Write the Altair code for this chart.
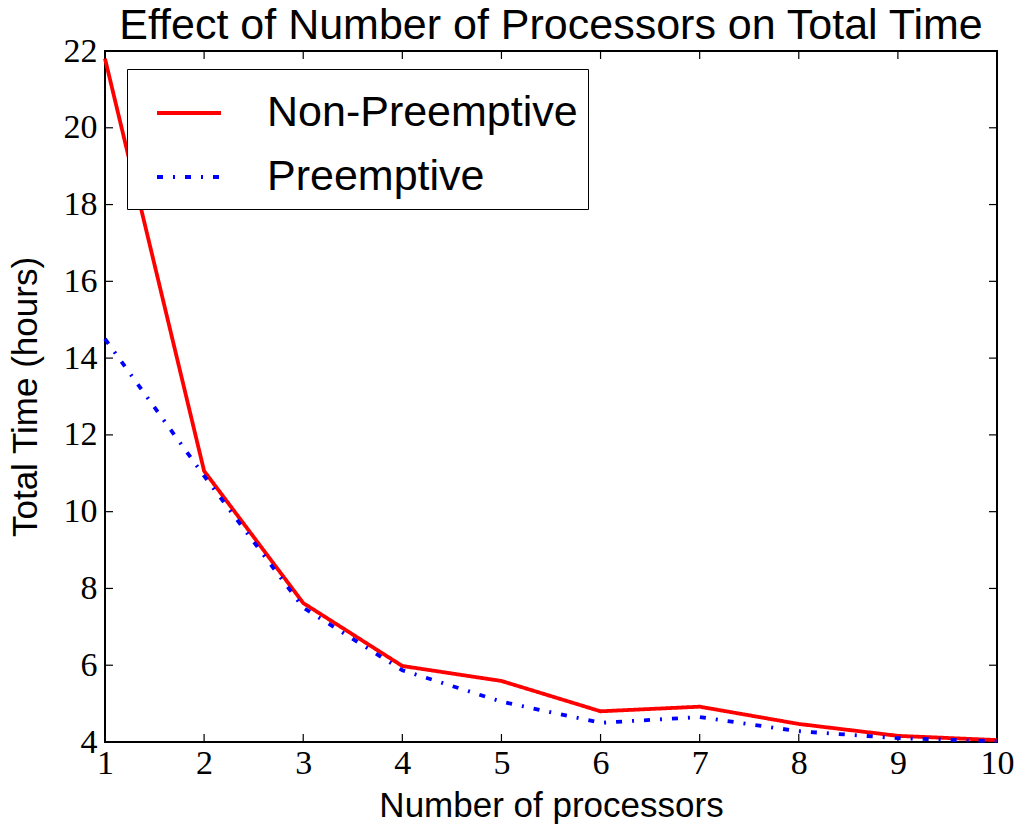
import altair as alt
import pandas as pd

# Total run time (hours) for each processor count
processors = [1, 2, 3, 4, 5, 6, 7, 8, 9, 10]
non_preemptive = [21.8, 11.06, 7.62, 5.98, 5.59, 4.8, 4.92, 4.47, 4.16, 4.05]
preemptive = [14.5, 10.93, 7.5, 5.87, 5.05, 4.5, 4.65, 4.28, 4.1, 4.02]
series_names = ["Non-Preemptive", "Preemptive"]
x_ticks = [1, 2, 3, 4, 5, 6, 7, 8, 9, 10]
y_ticks = [4, 6, 8, 10, 12, 14, 16, 18, 20, 22]

W, H = 892, 691
TICK = 8

rows = []
for p, a, b in zip(processors, non_preemptive, preemptive):
    rows.append({"procs": p, "hours": a, "mode": series_names[0]})
    rows.append({"procs": p, "hours": b, "mode": series_names[1]})
df = pd.DataFrame(rows)

x_scale = alt.Scale(domain=[1, 10], nice=False, zero=False)
y_scale = alt.Scale(domain=[4, 22], nice=False, zero=False)

x_axis = alt.Axis(values=x_ticks, format="d", title="Number of processors")
y_axis = alt.Axis(values=y_ticks, format="d", title="Total Time (hours)")

lines = alt.Chart(df).mark_line(strokeWidth=3.8, strokeCap="butt").encode(
    x=alt.X("procs:Q", scale=x_scale, axis=x_axis),
    y=alt.Y("hours:Q", scale=y_scale, axis=y_axis),
    color=alt.Color(
        "mode:N",
        scale=alt.Scale(domain=series_names, range=["#ff0000", "#0000ff"]),
        legend=alt.Legend(
            title=None,
            orient="none",
            legendX=22,
            legendY=18,
            symbolType="stroke",
            symbolSize=4096,
            symbolStrokeWidth=3.8,
            symbolOffset=18,
            labelOffset=44,
            labelFontSize=43,
            labelFont="Liberation Sans",
            labelColor="black",
            labelLimit=0,
            rowPadding=8,
            padding=10,
            strokeColor="black",
            fillColor="white",
            cornerRadius=0,
        ),
    ),
    strokeDash=alt.StrokeDash(
        "mode:N",
        scale=alt.Scale(domain=series_names, range=[[1, 0], [6, 10, 2, 10]]),
        legend=None,
    ),
    detail="mode:N",
)

xt = pd.DataFrame({"v": x_ticks})
yt = pd.DataFrame({"v": y_ticks})

# inward ticks on all four sides of the frame
tick_bottom = alt.Chart(xt).mark_rule(color="black", strokeWidth=1.2).encode(
    x=alt.X("v:Q", scale=x_scale), y=alt.value(H), y2=alt.value(H - TICK))
tick_top = alt.Chart(xt).mark_rule(color="black", strokeWidth=1.2).encode(
    x=alt.X("v:Q", scale=x_scale), y=alt.value(0), y2=alt.value(TICK))
tick_left = alt.Chart(yt).mark_rule(color="black", strokeWidth=1.2).encode(
    y=alt.Y("v:Q", scale=y_scale), x=alt.value(0), x2=alt.value(TICK))
tick_right = alt.Chart(yt).mark_rule(color="black", strokeWidth=1.2).encode(
    y=alt.Y("v:Q", scale=y_scale), x=alt.value(W), x2=alt.value(W - TICK))

chart = alt.layer(tick_bottom, tick_top, tick_left, tick_right, lines).properties(
    width=W,
    height=H,
    background="white",
    title=alt.TitleParams(
        "Effect of Number of Processors on Total Time",
        fontSize=43,
        font="Liberation Sans",
        fontWeight="normal",
        color="black",
        anchor="middle",
        offset=-14,
    ),
    padding={"left": 105, "top": 51, "right": 19, "bottom": 87},
    autosize="none",
).configure_view(
    stroke="black", strokeWidth=2
).configure_axis(
    domain=False,
    ticks=False,
    grid=False,
    labelFont="Liberation Serif",
    labelFontSize=34,
    labelColor="black",
    labelOverlap=False,
    labelFlush=False,
    titleFont="Liberation Sans",
    titleFontSize=35,
    titleFontWeight="normal",
    titleColor="black",
).configure_axisX(
    labelPadding=4, titlePadding=8
).configure_axisY(
    labelPadding=8, titlePadding=20
)

chart.save("out.html", embed_options={"renderer": "svg", "actions": False})
